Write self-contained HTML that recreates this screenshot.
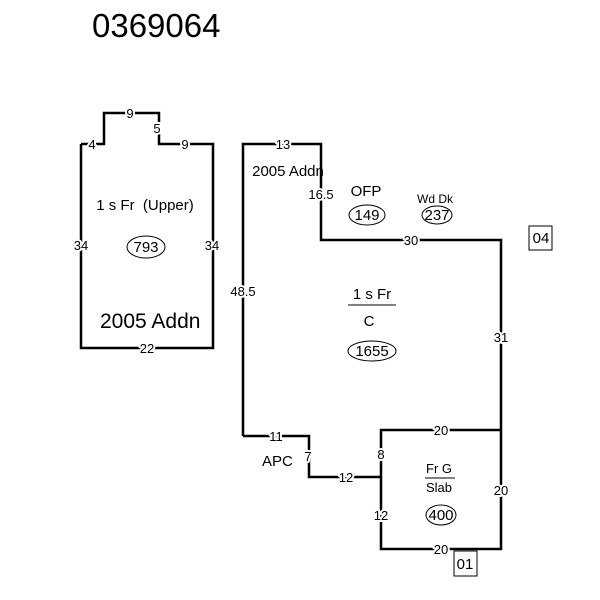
<!DOCTYPE html>
<html><head><meta charset="utf-8"><style>
html,body{margin:0;padding:0;background:#fff;}
svg{display:block;}
text{font-family:"Liberation Sans",sans-serif;fill:#000;}
.d{font-size:13px;paint-order:stroke;stroke:#fff;stroke-width:4px;stroke-linejoin:round;}
.l{font-size:15px;}
</style></head><body>
<svg width="600" height="600" viewBox="0 0 600 600" xmlns="http://www.w3.org/2000/svg">
<text x="92" y="37" style="font-size:33px">0369064</text>
<g fill="none" stroke="#000" stroke-width="2.5">
<polyline points="81,144 104,144 104,113 159,113 159,144 213,144 213,348 81,348 81,144"/>
<polyline points="243,436 243,144 321,144 321,240 501,240 501,549 381,549 381,430 501,430"/>
<polyline points="243,436 309,436 309,477 381,477"/>
<rect x="454" y="551" width="23" height="25" stroke-width="1"/>
<rect x="529" y="226" width="23" height="24" stroke-width="1"/>
</g>
<g text-anchor="middle">
<text class="d" x="130" y="118">9</text>
<text class="d" x="92" y="149">4</text>
<text class="d" x="157" y="133">5</text>
<text class="d" x="185" y="149">9</text>
<text class="d" x="81" y="250">34</text>
<text class="d" x="212" y="250">34</text>
<text class="d" x="147" y="353">22</text>
<text class="d" x="283" y="149">13</text>
<text class="d" x="321" y="199">16.5</text>
<text class="d" x="243" y="296">48.5</text>
<text class="d" x="411" y="245">30</text>
<text class="d" x="501" y="342">31</text>
<text class="d" x="276" y="441">11</text>
<text class="d" x="308" y="461">7</text>
<text class="d" x="346" y="482">12</text>
<text class="d" x="381" y="459">8</text>
<text class="d" x="381" y="520">12</text>
<text class="d" x="441" y="435">20</text>
<text class="d" x="501" y="495">20</text>
<text class="d" x="441" y="554">20</text>
<text class="l" x="145" y="210" xml:space="preserve">1 s Fr  (Upper)</text>
<text class="l" x="288" y="176">2005 Addn</text>
<text class="l" x="366" y="196">OFP</text>
<text x="435" y="203" style="font-size:12px">Wd Dk</text>
<text class="l" x="372" y="299">1 s Fr</text>
<text class="l" x="369" y="326">C</text>
<text x="439" y="473" style="font-size:13px">Fr G</text>
<text x="439" y="492" style="font-size:13px">Slab</text>
<text class="l" x="146" y="252">793</text>
<text class="l" x="367" y="220">149</text>
<text class="l" x="437" y="220">237</text>
<text class="l" x="372" y="356">1655</text>
<text class="l" x="441" y="520">400</text>
<text class="l" x="465" y="569">01</text>
<text class="l" x="541" y="243">04</text>
</g>
<text x="100" y="328" style="font-size:21px">2005 Addn</text>
<text class="l" x="262" y="466">APC</text>
<g fill="none" stroke="#000" stroke-width="1">
<ellipse cx="146" cy="247" rx="19" ry="11"/>
<ellipse cx="367" cy="215" rx="18" ry="10"/>
<ellipse cx="437" cy="215" rx="15" ry="9"/>
<ellipse cx="372" cy="351" rx="24" ry="10"/>
<ellipse cx="441" cy="515" rx="15" ry="10"/>
<line x1="348" y1="305" x2="396" y2="305"/>
<line x1="425" y1="478" x2="455" y2="478"/>
</g>
</svg>
</body></html>
